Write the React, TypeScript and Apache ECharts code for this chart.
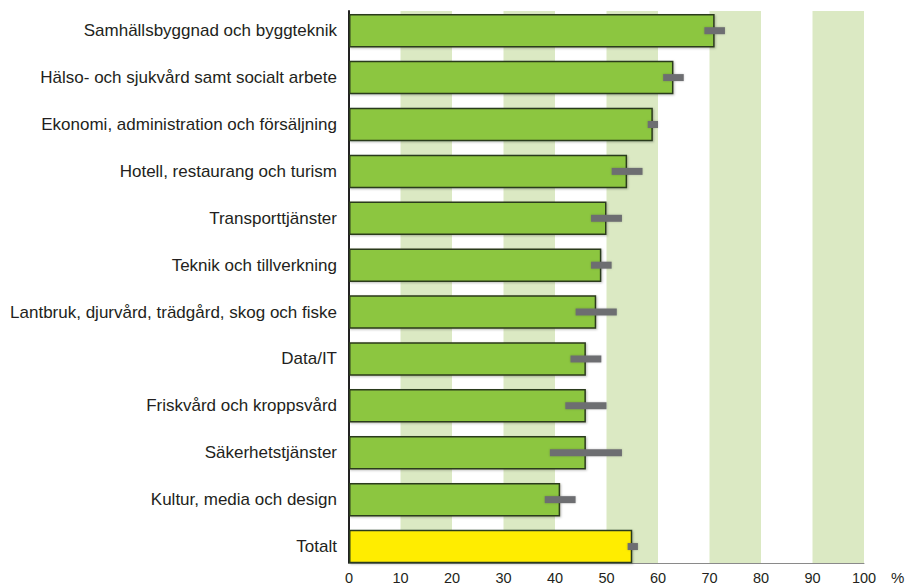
import React, { useEffect, useRef } from "react";
import * as echarts from "echarts";

const categories: string[] = [
  "Samhällsbyggnad och byggteknik",
  "Hälso- och sjukvård samt socialt arbete",
  "Ekonomi, administration och försäljning",
  "Hotell, restaurang och turism",
  "Transporttjänster",
  "Teknik och tillverkning",
  "Lantbruk, djurvård, trädgård, skog och fiske",
  "Data/IT",
  "Friskvård och kroppsvård",
  "Säkerhetstjänster",
  "Kultur, media och design",
  "Totalt",
];
const values: number[] = [71, 63, 59, 54, 50, 49, 48, 46, 46, 46, 41, 55];
const errLow: number[] = [69, 61, 58, 51, 47, 47, 44, 43, 42, 39, 38, 54.1];
const errHigh: number[] = [73, 65, 60, 57, 53, 51, 52, 49, 50, 53, 44, 56.1];
const totalLabel = "Totalt";
const unitLabel = "%";

const FONT = '"Liberation Sans", Arial, Helvetica, sans-serif';
const GREEN = "#8cc63f";
const YELLOW = "#ffed00";
const BAND = "#dbe9c3";
const BORDER = "#2b3a1d";
const ERR = "#6d6e71";
const TEXT = "#231f20";

export default function App() {
  const ref = useRef<HTMLDivElement>(null);
  useEffect(() => {
    if (!ref.current) return;
    const chart = echarts.init(ref.current, undefined, { renderer: "svg" });
    const barData = values.map((v, i) => ({
      value: v,
      itemStyle: { color: categories[i] === totalLabel ? YELLOW : GREEN },
    }));
    const errData = categories.map((_, i) => [i, errLow[i], errHigh[i]]);
    chart.setOption({
      animation: false,
      backgroundColor: "#ffffff",
      textStyle: { fontFamily: FONT },
      grid: [
        { left: 349, top: 11, width: 515, height: 554, containLabel: false },
        { left: 349, top: 7.25, width: 515, height: 562.75, containLabel: false },
      ],
      xAxis: [
        {
          gridIndex: 0,
          type: "value",
          min: 0,
          max: 100,
          interval: 10,
          axisLine: { show: true, lineStyle: { color: "#8a8a8a", width: 1 } },
          axisTick: { show: false },
          splitLine: { show: false },
          splitArea: { show: true, areaStyle: { color: ["rgba(255,255,255,0)", BAND] } },
          axisLabel: { color: TEXT, fontSize: 14.5, fontFamily: FONT, margin: 7 },
        },
        {
          gridIndex: 1,
          type: "value",
          min: 0,
          max: 100,
          show: false,
        },
      ],
      yAxis: [
        {
          gridIndex: 0,
          type: "value",
          min: 0,
          max: 1,
          axisLine: { show: true, lineStyle: { color: "#222222", width: 2 } },
          axisTick: { show: false },
          axisLabel: { show: false },
          splitLine: { show: false },
        },
        {
          gridIndex: 1,
          type: "category",
          data: categories,
          inverse: true,
          axisLine: { show: false },
          axisTick: { show: false },
          splitLine: { show: false },
          axisLabel: { color: TEXT, fontSize: 17, fontFamily: FONT, margin: 12 },
        },
      ],
      graphic: [
        {
          type: "text",
          left: 891,
          top: 570,
          style: { text: unitLabel, fill: TEXT, fontSize: 15, fontFamily: FONT },
        },
      ],
      series: [
        {
          type: "bar",
          xAxisIndex: 1,
          yAxisIndex: 1,
          data: barData,
          barCategoryGap: "28.6%",
          itemStyle: {
            borderColor: BORDER,
            borderWidth: 1.5,
            shadowColor: "rgba(0,0,0,0.25)",
            shadowBlur: 2,
            shadowOffsetX: 1,
            shadowOffsetY: 1,
          },
          z: 2,
        },
        {
          type: "custom",
          xAxisIndex: 1,
          yAxisIndex: 1,
          data: errData,
          encode: { x: [1, 2], y: 0 },
          z: 3,
          renderItem: (params: any, api: any) => {
            const cat = api.value(0);
            const p1 = api.coord([api.value(1), cat]);
            const p2 = api.coord([api.value(2), cat]);
            return {
              type: "rect",
              shape: { x: p1[0], y: p1[1] - 3.5, width: p2[0] - p1[0], height: 7 },
              style: {
                fill: ERR,
                shadowColor: "rgba(0,0,0,0.2)",
                shadowBlur: 2,
              },
            };
          },
        },
      ],
    });
    return () => chart.dispose();
  }, []);
  return (
    <div
      ref={ref}
      style={{ position: "fixed", left: 0, top: 0, width: 917, height: 585 }}
    />
  );
}
